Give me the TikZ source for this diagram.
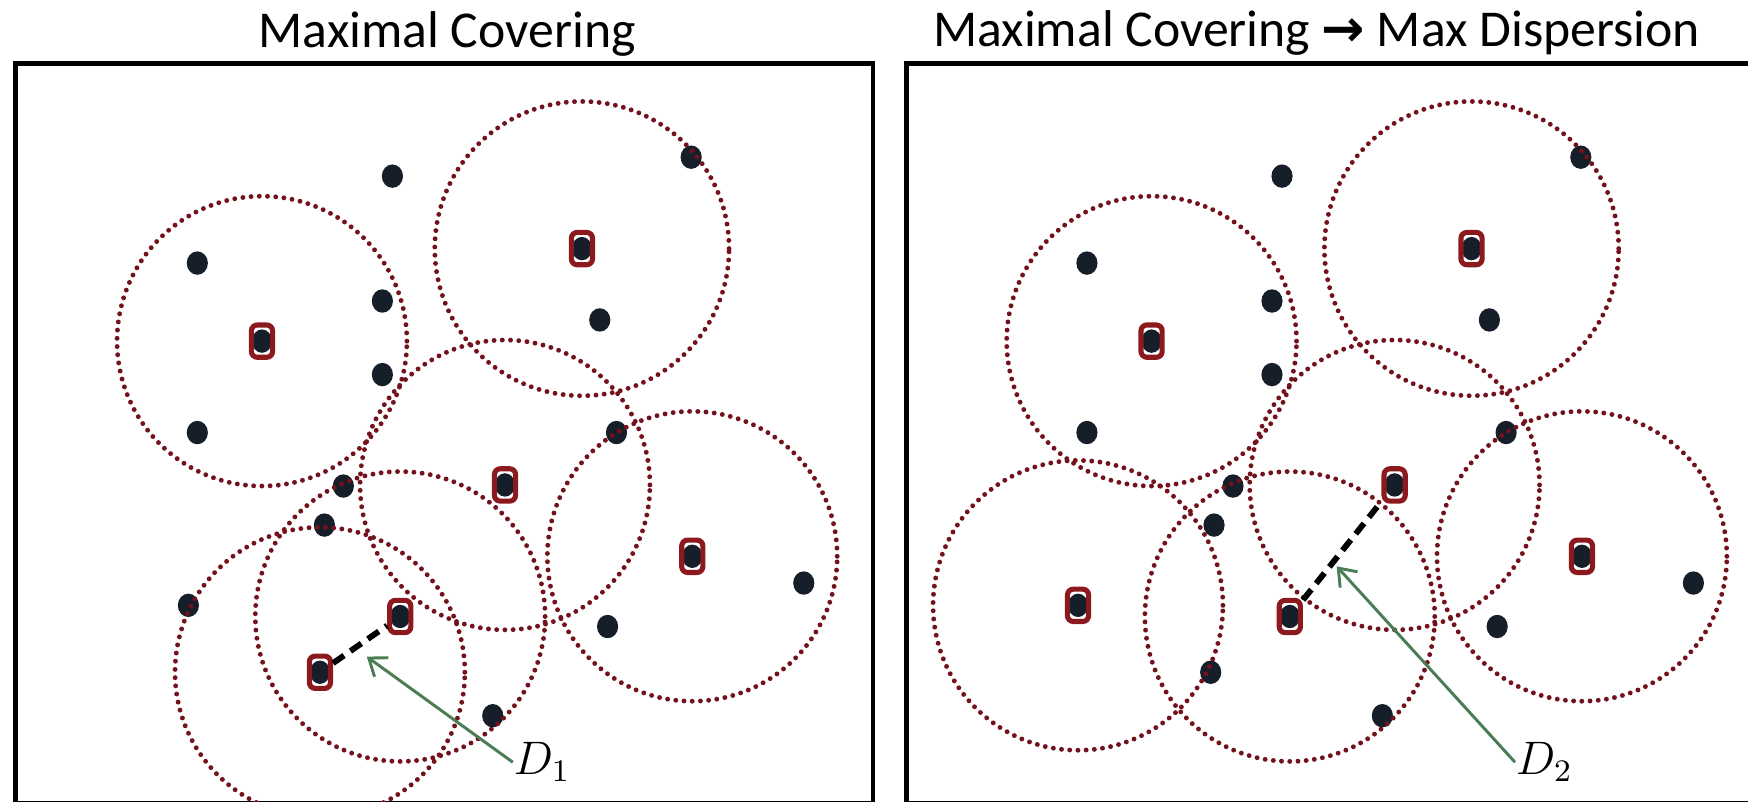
\documentclass[tikz,border=0pt]{standalone}
\usepackage{fontspec}
\setmainfont{Carlito}
\newfontfamily\arrowfont{DejaVu Sans}
\usetikzlibrary{shapes}
\usetikzlibrary{positioning}
\usetikzlibrary{arrows.meta}
\definecolor{dotblue}{RGB}{22,30,42}
\definecolor{rangered}{RGB}{115,18,28}
\definecolor{sitered}{RGB}{140,25,30}
\definecolor{pointergreen}{RGB}{75,125,85}
\tikzset{
    Point/.style = {ellipse, fill=dotblue, inner sep=0pt, minimum width=0.19cm, minimum height=0.21cm}
}
\tikzset{
    Site/.style = {rectangle, rounded corners=1.5pt, draw=sitered, line width=1.3pt, fill=white,
        minimum width=0.19cm, minimum height=0.29cm, inner sep=0pt,
        path picture={\fill[dotblue] (path picture bounding box.center) ellipse (0.09cm and 0.105cm);}}
}
\tikzset{
    Range/.style = {draw=rangered, line width=1.25pt, line cap=round, dash pattern=on 0pt off 2.1pt}
}
\tikzset{
    Gap/.style = {draw=black, line width=1.5pt, dash pattern=on 3.4pt off 2pt}
}
\tikzset{
    Pointer/.style = {draw=pointergreen, line width=0.75pt, -{Straight Barb[length=4pt,width=6pt]}}
}

\begin{document}
\begin{tikzpicture}[
    font=\fontsize{13.2}{15}\selectfont
]
\tikzset{
    Label/.style = {anchor=base west, inner sep=0pt, font=\fontsize{12}{14}\selectfont},
    Panel/.style = {draw=black, line width=1.1pt}
}
\useasboundingbox (0,0) rectangle (15.68,-7.19);
\draw[Panel] (0.14,-0.57) rectangle (7.83,-7.20);
\draw[Panel] (8.13,-0.57) rectangle (15.80,-7.20);
\node[anchor=base] at (4.01,-0.43) (title1) {Maximal Covering};
\node[anchor=base] at (11.81,-0.42) (title2) {Maximal Covering {\arrowfont\bfseries →} Max Dispersion};

\node[Point] at (3.52,-1.58) (p1) {};
\node[Point] at (6.20,-1.41) (p2) {};
\node[Point] at (1.77,-2.36) (p3) {};
\node[Point] at (3.43,-2.70) (p4) {};
\node[Point] at (5.38,-2.87) (p5) {};
\node[Point] at (3.43,-3.36) (p6) {};
\node[Point] at (1.77,-3.88) (p7) {};
\node[Point] at (5.53,-3.88) (p8) {};
\node[Point] at (3.08,-4.36) (p9) {};
\node[Point] at (2.91,-4.71) (p10) {};
\node[Point] at (1.69,-5.43) (p11) {};
\node[Point] at (5.45,-5.62) (p12) {};
\node[Point] at (7.21,-5.23) (p13) {};
\node[Point] at (4.42,-6.42) (p14) {};
\node[Site] at (2.35,-3.06) (s1) {};
\node[Site] at (5.22,-2.23) (s2) {};
\node[Site] at (4.53,-4.35) (s3) {};
\node[Site] at (6.21,-4.99) (s4) {};
\node[Site] at (3.59,-5.53) (s5) {};
\node[Site] at (2.87,-6.03) (s6) {};
\draw[Range] (s1.center) circle (1.3);
\draw[Range] (s2.center) circle (1.32);
\draw[Range] (s3.center) circle (1.3);
\draw[Range] (s4.center) circle (1.3);
\draw[Range] (s5.center) circle (1.3);
\draw[Range] (s6.center) circle (1.3);
\path (s6) edge [Gap] (s5);
\node[Label] at (4.60,-6.95) (d1) {$D_1$};
\coordinate (t1) at (3.29,-5.89);
\path (d1.west) edge [Pointer] (t1);

\begin{scope}[xshift=7.98cm]
\node[Point] at (3.52,-1.58) (rp1) {};
\node[Point] at (6.20,-1.41) (rp2) {};
\node[Point] at (1.77,-2.36) (rp3) {};
\node[Point] at (3.43,-2.70) (rp4) {};
\node[Point] at (5.38,-2.87) (rp5) {};
\node[Point] at (3.43,-3.36) (rp6) {};
\node[Point] at (1.77,-3.88) (rp7) {};
\node[Point] at (5.53,-3.88) (rp8) {};
\node[Point] at (3.08,-4.36) (rp9) {};
\node[Point] at (2.91,-4.71) (rp10) {};
\node[Point] at (2.88,-6.03) (rp11) {};
\node[Point] at (5.45,-5.62) (rp12) {};
\node[Point] at (7.21,-5.23) (rp13) {};
\node[Point] at (4.42,-6.42) (rp14) {};
\node[Site] at (2.35,-3.06) (rs1) {};
\node[Site] at (5.22,-2.23) (rs2) {};
\node[Site] at (4.53,-4.35) (rs3) {};
\node[Site] at (6.21,-4.99) (rs4) {};
\node[Site] at (3.59,-5.53) (rs5) {};
\node[Site] at (1.69,-5.43) (rs6) {};
\draw[Range] (rs1.center) circle (1.3);
\draw[Range] (rs2.center) circle (1.32);
\draw[Range] (rs3.center) circle (1.3);
\draw[Range] (rs4.center) circle (1.3);
\draw[Range] (rs5.center) circle (1.3);
\draw[Range] (rs6.center) circle (1.3);
\path (rs5) edge [Gap] (rs3);
\node[Label] at (5.61,-6.95) (d2) {$D_2$};
\coordinate (t2) at (4.01,-5.08);
\path (d2.west) edge [Pointer] (t2);
\end{scope}
\end{tikzpicture}
\end{document}
